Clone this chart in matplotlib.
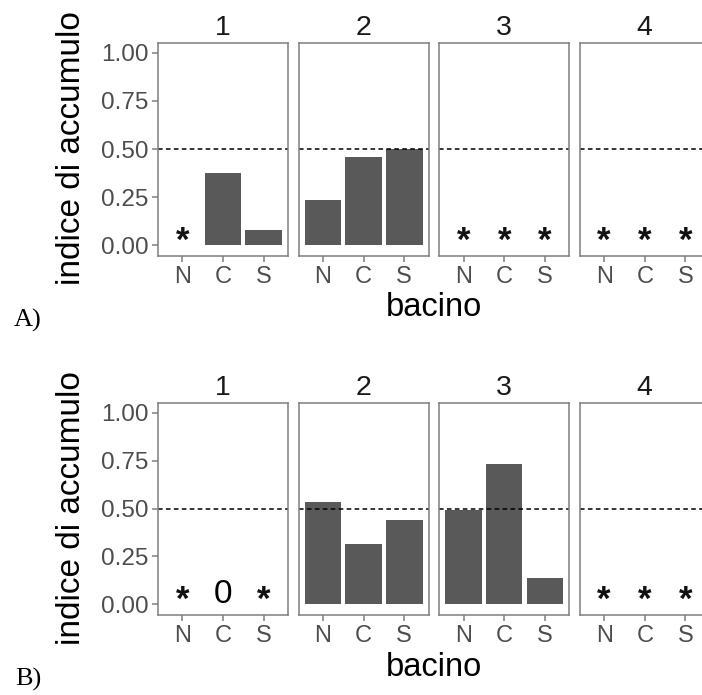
import numpy as np
import matplotlib
matplotlib.use("Agg")
import matplotlib.pyplot as plt
import matplotlib.transforms as mtransforms

nan = np.nan
basins = ["N", "C", "S"]
facets = ["1", "2", "3", "4"]
y_ticks = [0.00, 0.25, 0.50, 0.75, 1.00]
y_ticklabels = ["0.00", "0.25", "0.50", "0.75", "1.00"]
threshold = 0.5

# Panel A values (nan = no bar)
index_A_1 = [nan, 0.375, 0.078]
index_A_2 = [0.233, 0.461, 0.501]
index_A_3 = [nan, nan, nan]
index_A_4 = [nan, nan, nan]
marks_A_1 = ["*", "", ""]
marks_A_2 = ["", "", ""]
marks_A_3 = ["*", "*", "*"]
marks_A_4 = ["*", "*", "*"]

# Panel B values
index_B_1 = [nan, nan, nan]
index_B_2 = [0.532, 0.316, 0.440]
index_B_3 = [0.492, 0.731, 0.136]
index_B_4 = [nan, nan, nan]
marks_B_1 = ["*", "0", "*"]
marks_B_2 = ["", "", ""]
marks_B_3 = ["", "", ""]
marks_B_4 = ["*", "*", "*"]
mark_y = 0.05

ylabel = "indice di accumulo"
xlabel = "bacino"
panel_tags = ["A)", "B)"]

FONT = "Liberation Sans"
BAR = "#595959"
FRAME = "#7F7F7F"
TICKC = "#4D4D4D"

W, H = 702, 695
fig = plt.figure(figsize=(W / 100, H / 100), dpi=100)

rows = [
    ([index_A_1, index_A_2, index_A_3, index_A_4], [marks_A_1, marks_A_2, marks_A_3, marks_A_4], 43, 256),
    ([index_B_1, index_B_2, index_B_3, index_B_4], [marks_B_1, marks_B_2, marks_B_3, marks_B_4], 403, 615),
]

left0 = 158
step = 140.6
pw = 130

for r, (vals, marks, top, bot) in enumerate(rows):
    for i, f in enumerate(facets):
        ax = fig.add_axes([(left0 + i * step) / W, 1 - bot / H, pw / W, (bot - top) / H])
        x = np.arange(len(basins))
        v = np.array(vals[i], dtype=float)
        ax.bar(x, np.nan_to_num(v), width=0.9, color=BAR, linewidth=0)
        star_tr = mtransforms.offset_copy(ax.transData, fig=fig, x=0, y=-6, units="dots")
        zero_tr = mtransforms.offset_copy(ax.transData, fig=fig, x=0, y=0, units="dots")
        for xi, m in zip(x, marks[i]):
            if m == "*":
                ax.text(xi, mark_y, "*", ha="center", va="center", fontsize=25,
                        family=FONT, fontweight="bold", color="#111111", transform=star_tr)
            elif m:
                ax.text(xi, mark_y, m, ha="center", va="center", fontsize=24,
                        family=FONT, color="black", transform=zero_tr)
        ax.axhline(threshold, color="black", lw=1.1, ls=(0, (3, 2.2)))
        ax.set_xlim(-0.6, 2.6)
        ax.set_ylim(-0.055, 1.05)
        ax.set_xticks(x)
        ax.set_xticklabels(basins, family=FONT, fontsize=17, color=TICKC)
        ax.set_yticks(y_ticks)
        for s in ax.spines.values():
            s.set_color(FRAME)
            s.set_linewidth(1.1)
        ax.tick_params(axis="both", color=FRAME, width=1.1, length=4.5, pad=2.5)
        if i == 0:
            ax.set_yticklabels(y_ticklabels, family=FONT, fontsize=17.5, color=TICKC)
        else:
            ax.set_yticklabels([])
            ax.tick_params(axis="y", length=0)
        ax.set_title(f, family=FONT, fontsize=20.5, color="#1A1A1A", pad=6)
    # axis titles
    fig.text(72 / W, 1 - ((top + bot) / 2 - 1) / H, ylabel, rotation=90, ha="center", va="center",
             family=FONT, fontsize=24, color="black")
    fig.text(434 / W, 1 - (bot + 52) / H, xlabel, ha="center", va="center",
             family=FONT, fontsize=23.5, color="black")
    fig.text(28 / W, 1 - (bot + 64) / H, panel_tags[r], ha="center", va="center",
             family="Liberation Serif", fontsize=19, color="black")

fig.savefig("out.png", dpi=100)
